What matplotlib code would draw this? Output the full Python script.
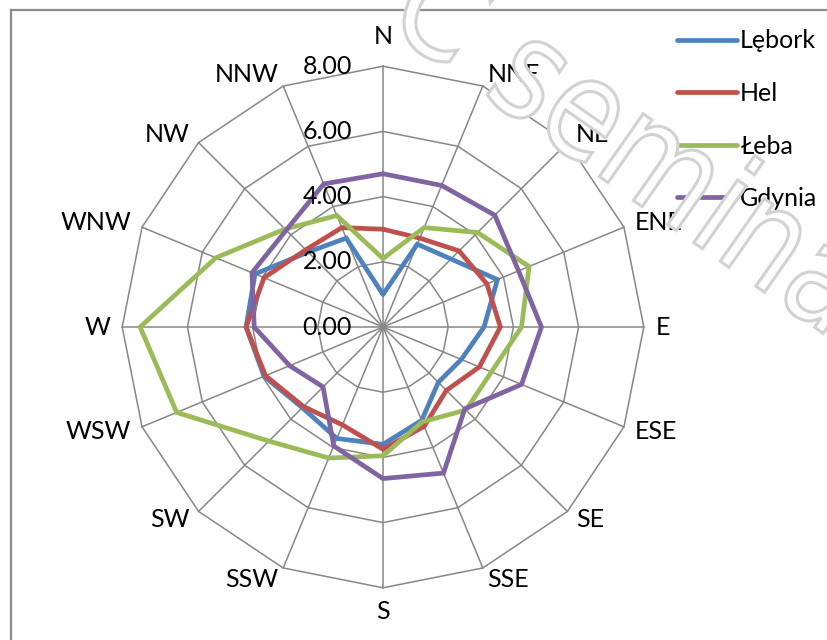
import numpy as np
import matplotlib
matplotlib.use("Agg")
import matplotlib.pyplot as plt
from matplotlib.lines import Line2D
from matplotlib.textpath import TextPath
from matplotlib.patches import PathPatch
from matplotlib.transforms import Affine2D
from matplotlib.font_manager import FontProperties

plt.rcParams['font.family'] = ['Lato', 'DejaVu Sans']

# kierunki wiatru i dane
directions = ['N', 'NNE', 'NE', 'ENE', 'E', 'ESE', 'SE', 'SSE',
              'S', 'SSW', 'SW', 'WSW', 'W', 'WNW', 'NW', 'NNW']
lebork = [1.0, 2.75, 2.95, 3.8, 3.1, 2.6, 2.4, 3.1,
          3.6, 3.7, 3.5, 3.95, 4.2, 4.25, 3.25, 2.95]
hel = [3.0, 2.95, 3.3, 3.45, 3.6, 3.2, 2.75, 3.3,
       3.75, 3.25, 3.45, 3.9, 4.2, 3.95, 3.35, 3.3]
leba = [2.1, 3.3, 4.1, 4.85, 4.25, 3.6, 3.6, 3.15,
        3.95, 4.35, 4.95, 6.85, 7.45, 5.55, 4.25, 3.7]
gdynia = [4.7, 4.7, 4.85, 4.5, 4.86, 4.6, 3.55, 4.85,
          4.65, 3.95, 2.6, 3.1, 3.95, 4.35, 4.2, 4.75]
series_names = ['Lębork', 'Hel', 'Łeba', 'Gdynia']
series_colors = ['#4F81BD', '#C0504D', '#9BBB59', '#8064A2']
rticks = [0, 2, 4, 6, 8]

# geometria (piksele)
W, H = 827, 640
CX, CY, PX = 383, 327, 32.6
RMAX = 8
FS = 18

fig = plt.figure(figsize=(W / 100, H / 100), dpi=100)
ax = fig.add_axes([0, 0, 1, 1])
ax.set_xlim(-CX / PX, (W - CX) / PX)
ax.set_ylim(-(H - CY) / PX, CY / PX)
ax.axis('off')

ang = np.deg2rad(np.arange(len(directions)) * 360 / len(directions))
s, c = np.sin(ang), np.cos(ang)

def closed(v):
    v = np.asarray(v, dtype=float)
    return np.append(v, v[0])

# siatka
grid_col = '#878787'
for r in rticks[1:]:
    ax.plot(closed(r * s), closed(r * c), color=grid_col, lw=1.1, zorder=1)
for i in range(len(directions)):
    ax.plot([0, RMAX * s[i]], [0, RMAX * c[i]], color=grid_col, lw=1.1, zorder=1)

# serie
handles = []
for vals, name, col in zip([lebork, hel, leba, gdynia], series_names, series_colors):
    v = np.asarray(vals)
    ln, = ax.plot(closed(v * s), closed(v * c), color=col, lw=3.4,
                  solid_joinstyle='miter', solid_capstyle='round', zorder=3, label=name)
    handles.append(ln)

# etykiety kierunkow
for i, d in enumerate(directions):
    gap = 18 if d == 'N' else 12
    rr = RMAX + gap / PX
    ha = 'left' if s[i] > 0.1 else ('right' if s[i] < -0.1 else 'center')
    if c[i] > 0.99:
        va = 'bottom'
    elif c[i] < -0.99:
        va = 'top'
    else:
        va = 'center'
    ax.text(rr * s[i], rr * c[i], d, ha=ha, va=va, fontsize=FS, zorder=4)

# etykiety osi promieniowej
for r in rticks:
    ax.text(-31 / PX, r, f'{r:.2f}', ha='right', va='center', fontsize=FS, zorder=4)

# legenda
ax.legend(handles=handles, loc='upper left', frameon=False, fontsize=FS,
          bbox_to_anchor=(664 / W, 1 - 17 / H), bbox_transform=fig.transFigure,
          handlelength=2.4, handletextpad=0.15, labelspacing=1.18, borderpad=0)

# ramka wykresu
fig.add_artist(Line2D([11 / W, 1], [1 - 10 / H, 1 - 10 / H], color='#8c8c8c', lw=1.6))
fig.add_artist(Line2D([11 / W, 11 / W], [0, 1 - 10 / H], color='#8c8c8c', lw=1.6))

# znak wodny (kontur liter, biale wypelnienie)
wm_text = 'C seminarium'
fp = FontProperties(family='DejaVu Sans')
tp = TextPath((0, 0), wm_text, size=1, prop=fp)
ext_pre = TextPath((0, 0), 'C s', size=1, prop=fp).get_extents()
ext_s = TextPath((0, 0), 's', size=1, prop=fp).get_extents()
s_loc = (ext_pre.x1 - ext_s.width / 2, ext_s.y0 + ext_s.height / 2)
rot = Affine2D().scale(118, 140).rotate_deg(-35)
sx, sy = rot.transform(s_loc)
wm_tr = rot.translate(528 - sx, (H - 80) - sy)
fig.add_artist(PathPatch(wm_tr.transform_path(tp), facecolor='white',
                         edgecolor='#d2d2d2', lw=2.2, zorder=10, transform=None))

fig.savefig('out.png', dpi=100)
